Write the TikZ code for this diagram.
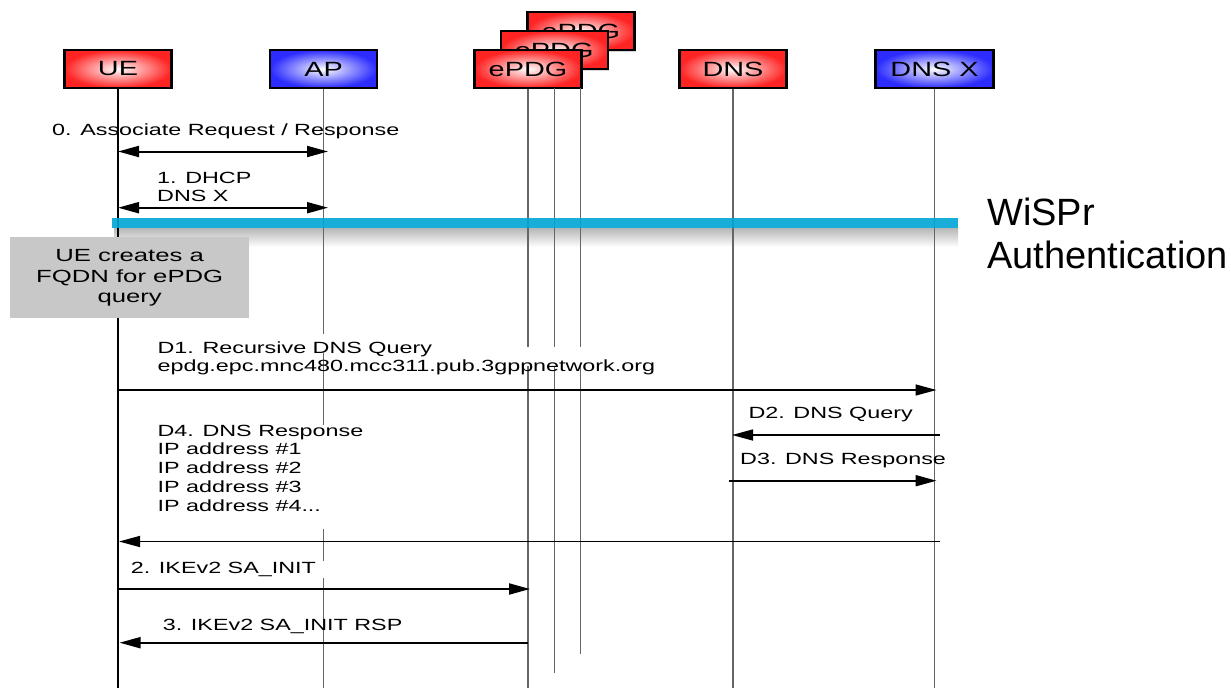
\documentclass[tikz,border=0pt]{standalone}
\usepackage{fontspec}
\setmainfont{Liberation Sans}
\newfontfamily\chartfont{Liberation Sans}[FakeStretch=1.44]
\newfontfamily\headfont{Liberation Sans}[FakeStretch=1.40]
\newfontfamily\notefont{Liberation Sans}[FakeStretch=1.46]
\usetikzlibrary{arrows.meta,shadows}

\definecolor{glowred}{RGB}{255,36,36}
\definecolor{glowblue}{RGB}{44,44,255}
\definecolor{notegray}{RGB}{200,200,200}
\definecolor{wisprblue}{RGB}{0,166,214}

\begin{document}
\begin{tikzpicture}[x=1pt,y=-1pt,
  entity/.style={draw=black, line width=2.4pt, minimum width=107pt, minimum height=38pt,
    inner sep=0pt, font={\headfont\fontsize{20.6pt}{24pt}\selectfont},
    drop shadow={shadow xshift=1.3pt, shadow yshift=-1.3pt, opacity=0.3}},
  redent/.style={entity, inner color=white, outer color=glowred},
  blueent/.style={entity, inner color=white, outer color=glowblue},
  life/.style={draw=black!60, line width=1.2pt},
  uelife/.style={draw=black, line width=1.1pt},
  msg/.style={line width=2pt, -{Triangle[length=21pt,width=11pt]}},
  msgthin/.style={line width=1.5pt, -{Triangle[length=21pt,width=11pt]}},
  msgboth/.style={line width=2pt, {Triangle[length=21pt,width=11pt]}-{Triangle[length=21pt,width=11pt]}},
  lbl/.style={anchor=base west, inner sep=0pt, font={\chartfont\fontsize{16.2pt}{18.7pt}\selectfont}},
  note/.style={fill=notegray, minimum width=239pt, minimum height=81pt, inner sep=0pt,
    align=center, font={\notefont\fontsize{17.6pt}{20.5pt}\selectfont}},
  bigtxt/.style={anchor=base west, inner sep=0pt, font={\fontsize{38pt}{43pt}\selectfont}}]

\fill[white] (0,0) rectangle (1231,688);
\useasboundingbox (0,0) rectangle (1231,688);

% soft shadow under the WiSPr bar
\shade[top color=black!28, bottom color=white] (114,228.3) rectangle (958,247);

% participants (ePDG instances stacked back to front)
\node[redent]  (epdgC) at (580.8,31.2) {ePDG};
\node[redent]  (epdgB) at (554.2,50.2) {ePDG};
\node[redent]  (epdgA) at (528,69) {ePDG};
\node[redent]  (ue)    at (118,69) {UE};
\node[blueent] (ap)    at (323.5,69) {AP};
\node[redent]  (dns)   at (733,69) {DNS};
\node[blueent, minimum width=118pt] (dnsx) at (934.5,69) {DNS X};

% lifeline end points and breaks
\coordinate (ueEnd)  at (118,688);
\coordinate (apCut1) at (323.5,334);
\coordinate (apCut2) at (323.5,353);
\coordinate (apCut3) at (323.5,425);
\coordinate (apCut4) at (323.5,529);
\coordinate (apCut5) at (323.5,561);
\coordinate (apCut6) at (323.5,578);
\coordinate (apEnd)  at (323.5,688);
\coordinate (eaCut1) at (528,347);
\coordinate (eaCut2) at (528,366);
\coordinate (eaEnd)  at (528,688);
\coordinate (ebTop)  at (554.2,88);
\coordinate (ebCut1) at (554.2,347);
\coordinate (ebCut2) at (554.2,366);
\coordinate (ebEnd)  at (554.2,673);
\coordinate (ecTop)  at (580.8,88);
\coordinate (ecCut1) at (580.8,347);
\coordinate (ecCut2) at (580.8,366);
\coordinate (ecEnd)  at (580.8,654);
\coordinate (dnsEnd) at (733,688);
\coordinate (dnsxEnd) at (934.5,688);

% lifelines
\draw[uelife] (ue.south) -- (ueEnd);
\draw[life] (ap.south) -- (apCut1) (apCut2) -- (apCut3) (apCut4) -- (apCut5) (apCut6) -- (apEnd);
\draw[life] (epdgA.south) -- (eaCut1) (eaCut2) -- (eaEnd);
\draw[life] (ebTop) -- (ebCut1) (ebCut2) -- (ebEnd);
\draw[life] (ecTop) -- (ecCut1) (ecCut2) -- (ecEnd);
\draw[life] (dns.south) -- (dnsEnd);
\draw[life] (dnsx.south) -- (dnsxEnd);

% local step on the UE
\node[note] (fqdn) at (129.7,277.8) {UE creates a\\FQDN for ePDG\\query};

% WiSPr authentication bar
\fill[wisprblue, opacity=0.9] (112,218.3) rectangle (958,228.3);
\node[bigtxt] (wispr) at (987,225) {WiSPr};
\node[bigtxt] (auth)  at (987,268.3) {Authentication};

% message end points
\coordinate (m0a) at (118,151.5);   \coordinate (m0b) at (328,151.5);
\coordinate (m1a) at (118,207.7);   \coordinate (m1b) at (328,207.7);
\coordinate (d1a) at (118,390);     \coordinate (d1b) at (936.5,390);
\coordinate (d2a) at (940,435);     \coordinate (d2b) at (732,435);
\coordinate (d3a) at (729,480.7);   \coordinate (d3b) at (936.5,480.7);
\coordinate (d4a) at (940,541.5);   \coordinate (d4b) at (119,541.5);
\coordinate (m2a) at (117,589);     \coordinate (m2b) at (530,589);
\coordinate (m3a) at (528,642.7);   \coordinate (m3b) at (119.5,642.7);

% messages
\draw[msgboth] (m0a) -- (m0b);
\draw[msgboth] (m1a) -- (m1b);
\draw[msgthin] (d1a) -- (d1b);
\draw[msgthin] (d2a) -- (d2b);
\draw[msg]     (d3a) -- (d3b);
\draw[msgthin] (d4a) -- (d4b);
\draw[msg]     (m2a) -- (m2b);
\draw[msg]     (m3a) -- (m3b);

% message labels
\node[lbl] (t0)  at (52,135)      {0. Associate Request / Response};
\node[lbl] (t1a) at (157,183.3)   {1. DHCP};
\node[lbl] (t1b) at (157,201.7)   {DNS X};
\node[lbl] (td1a) at (157.4,353.3) {D1. Recursive DNS Query};
\node[lbl] (td1b) at (157.4,371.7) {epdg.epc.mnc480.mcc311.pub.3gppnetwork.org};
\node[lbl] (td2) at (748.3,418.3) {D2. DNS Query};
\node[lbl] (td3) at (740,464)     {D3. DNS Response};
\node[lbl] (td4a) at (157.4,436)   {D4. DNS Response};
\node[lbl] (td4b) at (157.4,454.9) {IP address \#1};
\node[lbl] (td4c) at (157.4,473.6) {IP address \#2};
\node[lbl] (td4d) at (157.4,492.5) {IP address \#3};
\node[lbl] (td4e) at (157.4,511.5) {IP address \#4...};
\node[lbl] (t2)  at (130.7,573.3) {2. IKEv2 SA\_INIT};
\node[lbl] (t3)  at (162.7,630)   {3. IKEv2 SA\_INIT RSP};

\end{tikzpicture}
\end{document}
